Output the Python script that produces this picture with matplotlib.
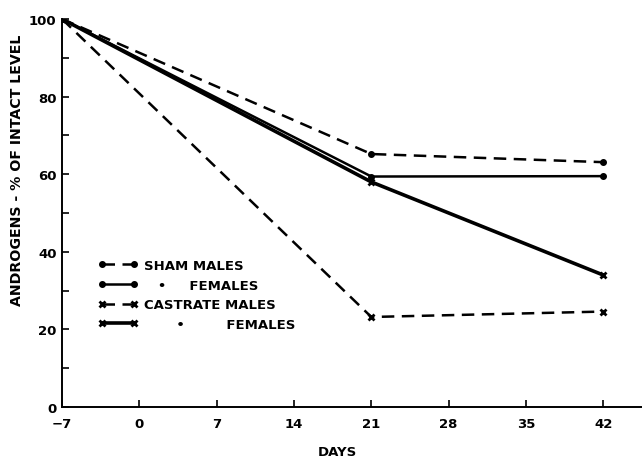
import matplotlib
matplotlib.use("Agg")
import matplotlib.pyplot as plt
from matplotlib.ticker import MultipleLocator

days = [-7, 21, 42]
sham_males = [100, 65.2, 63.1]
sham_females = [100, 59.4, 59.5]
castrate_males = [100, 23.2, 24.6]
castrate_females = [100, 58.0, 34.0]

labels = ["SHAM MALES", "   \u2022     FEMALES", "CASTRATE MALES", "       \u2022         FEMALES"]
xticks = [-7, 0, 7, 14, 21, 28, 35, 42]
yticks = [0, 20, 40, 60, 80, 100]

plt.rcParams['font.family'] = ['DejaVu Sans']

fig = plt.figure(figsize=(6.42, 4.60), dpi=100)
ax = fig.add_axes([62/642, 52/460, (642-62)/642, (408-20)/460])

ax.plot(days, sham_males, color='black', lw=1.8, ls=(0, (5, 3)), marker='o', ms=4, label=labels[0])
ax.plot(days, sham_females, color='black', lw=1.8, ls='-', marker='o', ms=4, label=labels[1])
ax.plot(days, castrate_males, color='black', lw=1.8, ls=(0, (5, 3)), marker='x', ms=5, mew=2, label=labels[2])
ax.plot(days, castrate_females, color='black', lw=2.6, ls='-', marker='x', ms=5, mew=2, label=labels[3])

ax.set_xlim(-7, 45.5)
ax.set_ylim(0, 100)
ax.set_xticks(xticks)
ax.set_yticks(yticks)
ax.yaxis.set_minor_locator(MultipleLocator(10))
ax.tick_params(direction='in', length=5, width=1.2, labelsize=9.5)
ax.tick_params(axis='x', pad=7)
ax.tick_params(axis='y', pad=4)
ax.tick_params(which='minor', direction='in', length=5, width=1.2)
for lab in ax.get_xticklabels() + ax.get_yticklabels():
    lab.set_fontweight('bold')
for s in ['top', 'right']:
    ax.spines[s].set_visible(False)
for s in ['left', 'bottom']:
    ax.spines[s].set_linewidth(1.4)

ax.set_xlabel("DAYS", fontsize=9.5, fontweight='bold')
ax.xaxis.set_label_coords(0.474, -0.097)
ax.set_ylabel("ANDROGENS - % OF INTACT LEVEL", fontsize=10.2, fontweight='bold')
ax.yaxis.set_label_coords(-0.066, 0.613)

leg = ax.legend(loc='upper left', bbox_to_anchor=(36/580, 1 - 240/388), frameon=False,
                handlelength=3.0, handletextpad=0.5, labelspacing=0.5, borderpad=0,
                borderaxespad=0, numpoints=2, prop={'size': 9.5, 'weight': 'bold'})

fig.savefig("out.png", dpi=100)
